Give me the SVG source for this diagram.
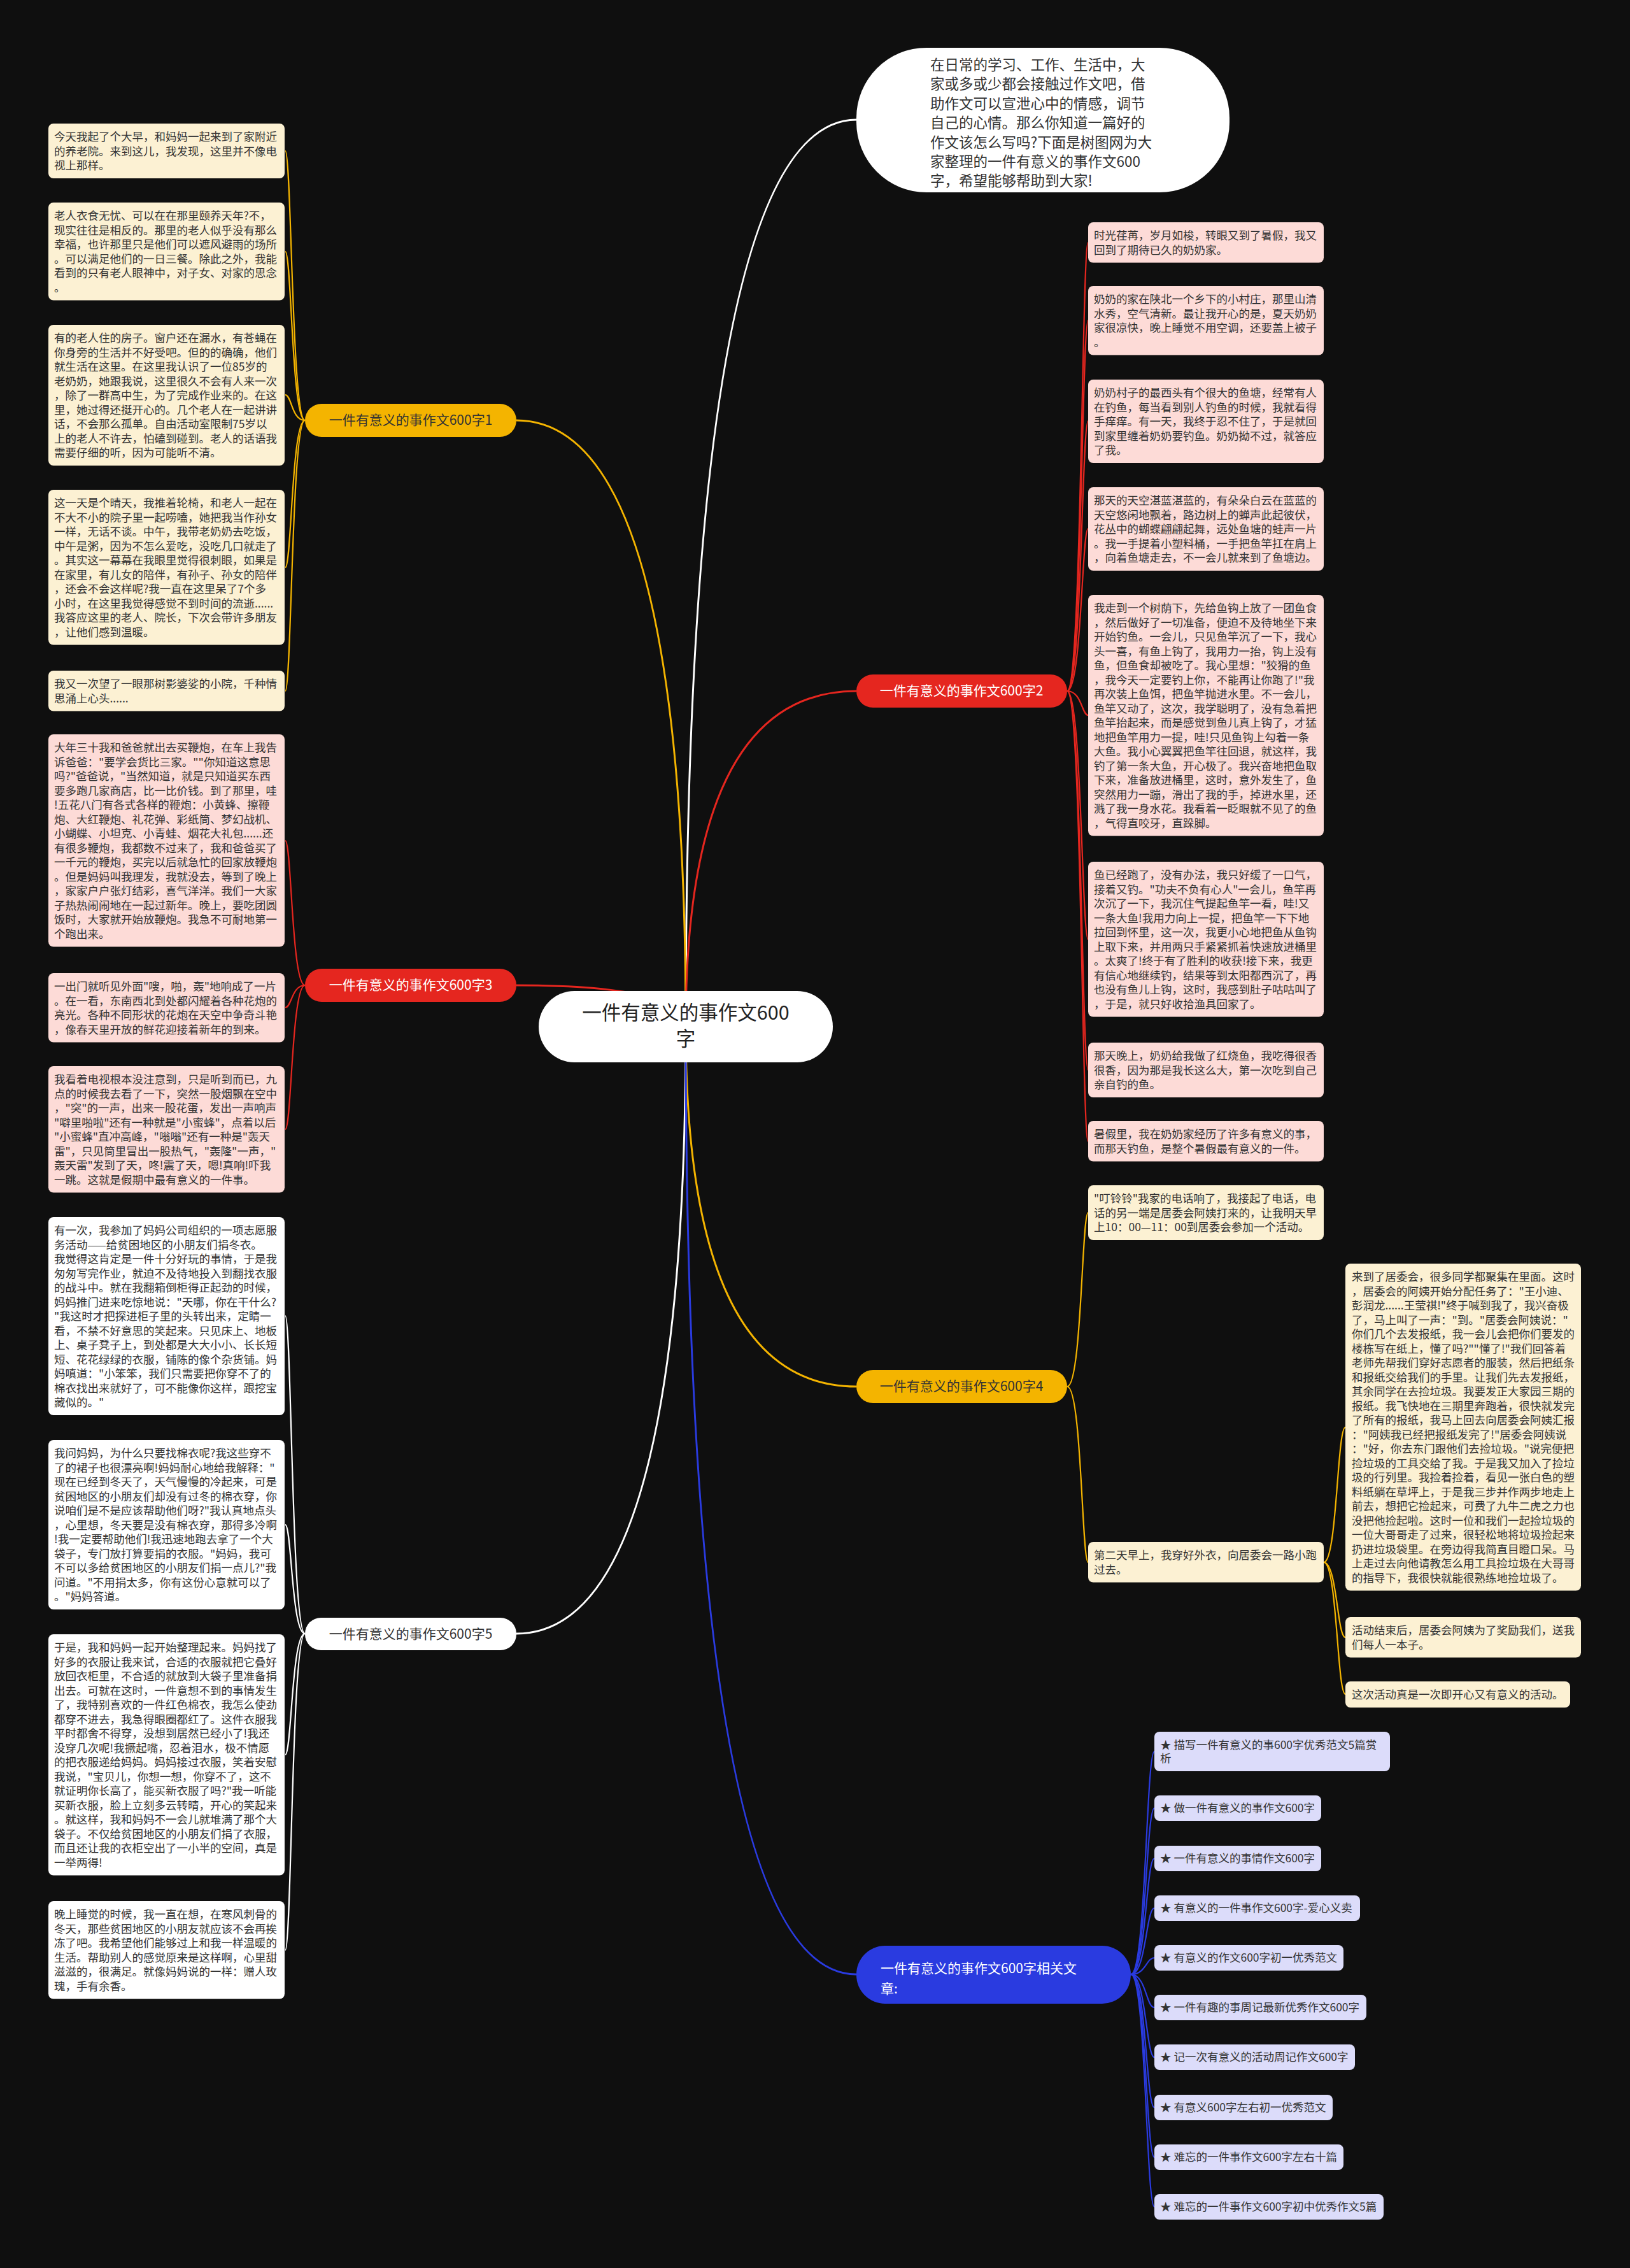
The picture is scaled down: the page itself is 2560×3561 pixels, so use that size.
<svg xmlns="http://www.w3.org/2000/svg" width="2560" height="3561" viewBox="0 0 2560 3561">
<style>
.t{font-family:"Noto Sans CJK SC","Noto Sans",sans-serif;font-size:17.5px;fill:#333}
.by{fill:#fcf1d3}
.bp{fill:#fddbd7}
.bw{fill:#ffffff}
.bl{fill:#dcdcfa}
.bt{font-family:"Noto Sans CJK SC","Noto Sans",sans-serif;font-size:21px}
.c{fill:none;stroke-width:2.2}
.m{fill:none;stroke-width:3}
</style>
<rect width="2560" height="3561" fill="#0f0f0f"/>
<g id="connectors">
<path class="m" stroke="#ffffff" d="M1077,1612 Q1077,188 1345,188"/>
<path class="m" stroke="#f4b400" d="M1077,1612 Q1077,660 811,660"/>
<path class="m" stroke="#e5261f" d="M1077,1612 Q1077,1547 811,1547"/>
<path class="m" stroke="#e5261f" d="M1077,1612 Q1077,1085 1345,1085"/>
<path class="m" stroke="#f4b400" d="M1077,1612 Q1077,2177 1345,2177"/>
<path class="m" stroke="#ffffff" d="M1077,1612 Q1077,2565 811,2565"/>
<path class="m" stroke="#2a3be0" d="M1077,1612 Q1077,3100 1345,3100"/>
<g stroke="#f4b400">
<path class="c" d="M479,660 C458,660 458,237 448,237"/>
<path class="c" d="M479,660 C458,660 458,395 448,395"/>
<path class="c" d="M479,660 C458,660 458,620 448,620"/>
<path class="c" d="M479,660 C458,660 458,891 448,891"/>
<path class="c" d="M479,660 C458,660 458,1085 448,1085"/>
</g>
<g stroke="#e5261f">
<path class="c" d="M479,1547 C458,1547 458,1320 448,1320"/>
<path class="c" d="M479,1547 C458,1547 458,1582 448,1582"/>
<path class="c" d="M479,1547 C458,1547 458,1773 448,1773"/>
</g>
<g stroke="#ffffff">
<path class="c" d="M479,2565 C458,2565 458,2066 448,2066"/>
<path class="c" d="M479,2565 C458,2565 458,2394 448,2394"/>
<path class="c" d="M479,2565 C458,2565 458,2755 448,2755"/>
<path class="c" d="M479,2565 C458,2565 458,3062 448,3062"/>
</g>
<g stroke="#e5261f">
<path class="c" d="M1676,1085 C1699,1085 1699,381 1709,381"/>
<path class="c" d="M1676,1085 C1699,1085 1699,503 1709,503"/>
<path class="c" d="M1676,1085 C1699,1085 1699,661 1709,661"/>
<path class="c" d="M1676,1085 C1699,1085 1699,830 1709,830"/>
<path class="c" d="M1676,1085 C1699,1085 1699,1123 1709,1123"/>
<path class="c" d="M1676,1085 C1699,1085 1699,1475 1709,1475"/>
<path class="c" d="M1676,1085 C1699,1085 1699,1680 1709,1680"/>
<path class="c" d="M1676,1085 C1699,1085 1699,1792 1709,1792"/>
</g>
<g stroke="#f4b400">
<path class="c" d="M1676,2177 C1699,2177 1699,1904 1709,1904"/>
<path class="c" d="M1676,2177 C1699,2177 1699,2453 1709,2453"/>
<path class="c" d="M2079,2453 C2100,2453 2100,2241 2113,2241"/>
<path class="c" d="M2079,2453 C2100,2453 2100,2571 2113,2571"/>
<path class="c" d="M2079,2453 C2100,2453 2100,2660 2113,2660"/>
</g>
<g stroke="#2a3be0">
<path class="c" d="M1776,3100 C1800,3100 1800,2750 1813,2750"/>
<path class="c" d="M1776,3100 C1800,3100 1800,2839 1813,2839"/>
<path class="c" d="M1776,3100 C1800,3100 1800,2918 1813,2918"/>
<path class="c" d="M1776,3100 C1800,3100 1800,2996 1813,2996"/>
<path class="c" d="M1776,3100 C1800,3100 1800,3074 1813,3074"/>
<path class="c" d="M1776,3100 C1800,3100 1800,3152 1813,3152"/>
<path class="c" d="M1776,3100 C1800,3100 1800,3230 1813,3230"/>
<path class="c" d="M1776,3100 C1800,3100 1800,3309 1813,3309"/>
<path class="c" d="M1776,3100 C1800,3100 1800,3387 1813,3387"/>
<path class="c" d="M1776,3100 C1800,3100 1800,3465 1813,3465"/>
</g>
</g>

<g id="center">
<rect x="846" y="1556" width="462" height="112" rx="56" fill="#ffffff"/>
<text x="1077" y="1601" text-anchor="middle" font-family="Noto Sans CJK SC, Noto Sans, sans-serif" font-size="30.5" fill="#222">一件有意义的事作文600</text>
<text x="1077" y="1642" text-anchor="middle" font-family="Noto Sans CJK SC, Noto Sans, sans-serif" font-size="30.5" fill="#222">字</text>
</g>

<g id="intro">
<rect x="1345" y="75" width="586" height="227" rx="110" fill="#ffffff"/>
<text font-family="Noto Sans CJK SC, Noto Sans, sans-serif" font-size="22.5" fill="#333">
<tspan x="1461" y="110">在日常的学习、工作、生活中，大</tspan>
<tspan x="1461" y="140.4">家或多或少都会接触过作文吧，借</tspan>
<tspan x="1461" y="170.8">助作文可以宣泄心中的情感，调节</tspan>
<tspan x="1461" y="201.2">自己的心情。那么你知道一篇好的</tspan>
<tspan x="1461" y="231.6">作文该怎么写吗?下面是树图网为大</tspan>
<tspan x="1461" y="262">家整理的一件有意义的事作文600</tspan>
<tspan x="1461" y="292.4">字，希望能够帮助到大家!</tspan>
</text>
</g>

<g id="b1"><rect x="479" y="634" width="332" height="52" rx="26" fill="#f4b400"/><text class="bt" x="645" y="667" text-anchor="middle" fill="#333">一件有意义的事作文600字1</text></g>
<g id="b3"><rect x="479" y="1521" width="332" height="52" rx="26" fill="#e5261f"/><text class="bt" x="645" y="1554" text-anchor="middle" fill="#fff">一件有意义的事作文600字3</text></g>
<g id="b5"><rect x="479" y="2540" width="332" height="51" rx="25" fill="#ffffff"/><text class="bt" x="645" y="2573" text-anchor="middle" fill="#333">一件有意义的事作文600字5</text></g>
<g id="b2"><rect x="1345" y="1059" width="331" height="52" rx="26" fill="#e5261f"/><text class="bt" x="1510" y="1092" text-anchor="middle" fill="#fff">一件有意义的事作文600字2</text></g>
<g id="b4"><rect x="1345" y="2151" width="331" height="52" rx="26" fill="#f4b400"/><text class="bt" x="1510" y="2184" text-anchor="middle" fill="#333">一件有意义的事作文600字4</text></g>
<g id="b6"><rect x="1345" y="3055" width="431" height="91" rx="45" fill="#2a3be0"/><text class="bt" fill="#fff"><tspan x="1383" y="3098">一件有意义的事作文600字相关文</tspan><tspan x="1383" y="3130">章:</tspan></text></g>

<g id="l1"><rect class="by" x="76" y="194" width="371" height="86" rx="8"/><text class="t"><tspan x="85" y="221">今天我起了个大早，和妈妈一起来到了家附近</tspan><tspan x="85" dy="22.5">的养老院。来到这儿，我发现，这里并不像电</tspan><tspan x="85" dy="22.5">视上那样。</tspan></text></g>
<g id="l2"><rect class="by" x="76" y="318" width="371" height="153.5" rx="8"/><text class="t"><tspan x="85" y="345">老人衣食无忧、可以在在那里颐养天年?不，</tspan><tspan x="85" dy="22.5">现实往往是相反的。那里的老人似乎没有那么</tspan><tspan x="85" dy="22.5">幸福，也许那里只是他们可以遮风避雨的场所</tspan><tspan x="85" dy="22.5">。可以满足他们的一日三餐。除此之外，我能</tspan><tspan x="85" dy="22.5">看到的只有老人眼神中，对子女、对家的思念</tspan><tspan x="85" dy="22.5">。</tspan></text></g>
<g id="l3"><rect class="by" x="76" y="510" width="371" height="221" rx="8"/><text class="t"><tspan x="85" y="537">有的老人住的房子。窗户还在漏水，有苍蝇在</tspan><tspan x="85" dy="22.5">你身旁的生活并不好受吧。但的的确确，他们</tspan><tspan x="85" dy="22.5">就生活在这里。在这里我认识了一位85岁的</tspan><tspan x="85" dy="22.5">老奶奶，她跟我说，这里很久不会有人来一次</tspan><tspan x="85" dy="22.5">，除了一群高中生，为了完成作业来的。在这</tspan><tspan x="85" dy="22.5">里，她过得还挺开心的。几个老人在一起讲讲</tspan><tspan x="85" dy="22.5">话，不会那么孤单。自由活动室限制75岁以</tspan><tspan x="85" dy="22.5">上的老人不许去，怕磕到碰到。老人的话语我</tspan><tspan x="85" dy="22.5">需要仔细的听，因为可能听不清。</tspan></text></g>
<g id="l4"><rect class="by" x="76" y="769" width="371" height="243.5" rx="8"/><text class="t"><tspan x="85" y="796">这一天是个晴天，我推着轮椅，和老人一起在</tspan><tspan x="85" dy="22.5">不大不小的院子里一起唠嗑，她把我当作孙女</tspan><tspan x="85" dy="22.5">一样，无话不谈。中午，我带老奶奶去吃饭，</tspan><tspan x="85" dy="22.5">中午是粥，因为不怎么爱吃，没吃几口就走了</tspan><tspan x="85" dy="22.5">。其实这一幕幕在我眼里觉得很刺眼，如果是</tspan><tspan x="85" dy="22.5">在家里，有儿女的陪伴，有孙子、孙女的陪伴</tspan><tspan x="85" dy="22.5">，还会不会这样呢?我一直在这里呆了7个多</tspan><tspan x="85" dy="22.5">小时，在这里我觉得感觉不到时间的流逝......</tspan><tspan x="85" dy="22.5">我答应这里的老人、院长，下次会带许多朋友</tspan><tspan x="85" dy="22.5">，让他们感到温暖。</tspan></text></g>
<g id="l5"><rect class="by" x="76" y="1053" width="371" height="63.5" rx="8"/><text class="t"><tspan x="85" y="1080">我又一次望了一眼那树影婆娑的小院，千种情</tspan><tspan x="85" dy="22.5">思涌上心头......</tspan></text></g>
<g id="l6"><rect class="bp" x="76" y="1153" width="371" height="333.5" rx="8"/><text class="t"><tspan x="85" y="1180">大年三十我和爸爸就出去买鞭炮，在车上我告</tspan><tspan x="85" dy="22.5">诉爸爸："要学会货比三家。""你知道这意思</tspan><tspan x="85" dy="22.5">吗?"爸爸说，"当然知道，就是只知道买东西</tspan><tspan x="85" dy="22.5">要多跑几家商店，比一比价钱。到了那里，哇</tspan><tspan x="85" dy="22.5">!五花八门有各式各样的鞭炮：小黄蜂、擦鞭</tspan><tspan x="85" dy="22.5">炮、大红鞭炮、礼花弹、彩纸筒、梦幻战机、</tspan><tspan x="85" dy="22.5">小蝴蝶、小坦克、小青蛙、烟花大礼包......还</tspan><tspan x="85" dy="22.5">有很多鞭炮，我都数不过来了，我和爸爸买了</tspan><tspan x="85" dy="22.5">一千元的鞭炮，买完以后就急忙的回家放鞭炮</tspan><tspan x="85" dy="22.5">。但是妈妈叫我理发，我就没去，等到了晚上</tspan><tspan x="85" dy="22.5">，家家户户张灯结彩，喜气洋洋。我们一大家</tspan><tspan x="85" dy="22.5">子热热闹闹地在一起过新年。晚上，要吃团圆</tspan><tspan x="85" dy="22.5">饭时，大家就开始放鞭炮。我急不可耐地第一</tspan><tspan x="85" dy="22.5">个跑出来。</tspan></text></g>
<g id="l7"><rect class="bp" x="76" y="1528" width="371" height="108.5" rx="8"/><text class="t"><tspan x="85" y="1555">一出门就听见外面"嗖，啪，轰"地响成了一片</tspan><tspan x="85" dy="22.5">。在一看，东南西北到处都闪耀着各种花炮的</tspan><tspan x="85" dy="22.5">亮光。各种不同形状的花炮在天空中争奇斗艳</tspan><tspan x="85" dy="22.5">，像春天里开放的鲜花迎接着新年的到来。</tspan></text></g>
<g id="l8"><rect class="bp" x="76" y="1674" width="371" height="198.5" rx="8"/><text class="t"><tspan x="85" y="1701">我看着电视根本没注意到，只是听到而已，九</tspan><tspan x="85" dy="22.5">点的时候我去看了一下，突然一股烟飘在空中</tspan><tspan x="85" dy="22.5">，"突"的一声，出来一股花蛋，发出一声响声</tspan><tspan x="85" dy="22.5">"噼里啪啦"还有一种就是"小蜜蜂"，点着以后</tspan><tspan x="85" dy="22.5">"小蜜蜂"直冲高峰，"嗡嗡"还有一种是"轰天</tspan><tspan x="85" dy="22.5">雷"，只见筒里冒出一股热气，"轰隆"一声，"</tspan><tspan x="85" dy="22.5">轰天雷"发到了天，咚!震了天，嗯!真响!吓我</tspan><tspan x="85" dy="22.5">一跳。这就是假期中最有意义的一件事。</tspan></text></g>
<g id="l9"><rect class="bw" x="76" y="1911" width="371" height="311" rx="8"/><text class="t"><tspan x="85" y="1938">有一次，我参加了妈妈公司组织的一项志愿服</tspan><tspan x="85" dy="22.5">务活动——给贫困地区的小朋友们捐冬衣。</tspan><tspan x="85" dy="22.5">我觉得这肯定是一件十分好玩的事情，于是我</tspan><tspan x="85" dy="22.5">匆匆写完作业，就迫不及待地投入到翻找衣服</tspan><tspan x="85" dy="22.5">的战斗中。就在我翻箱倒柜得正起劲的时候，</tspan><tspan x="85" dy="22.5">妈妈推门进来吃惊地说："天哪，你在干什么?</tspan><tspan x="85" dy="22.5">"我这时才把探进柜子里的头转出来，定睛一</tspan><tspan x="85" dy="22.5">看，不禁不好意思的笑起来。只见床上、地板</tspan><tspan x="85" dy="22.5">上、桌子凳子上，到处都是大大小小、长长短</tspan><tspan x="85" dy="22.5">短、花花绿绿的衣服，铺陈的像个杂货铺。妈</tspan><tspan x="85" dy="22.5">妈嗔道："小笨笨，我们只需要把你穿不了的</tspan><tspan x="85" dy="22.5">棉衣找出来就好了，可不能像你这样，跟挖宝</tspan><tspan x="85" dy="22.5">藏似的。"</tspan></text></g>
<g id="l10"><rect class="bw" x="76" y="2261" width="371" height="266" rx="8"/><text class="t"><tspan x="85" y="2288">我问妈妈，为什么只要找棉衣呢?我这些穿不</tspan><tspan x="85" dy="22.5">了的裙子也很漂亮啊!妈妈耐心地给我解释："</tspan><tspan x="85" dy="22.5">现在已经到冬天了，天气慢慢的冷起来，可是</tspan><tspan x="85" dy="22.5">贫困地区的小朋友们却没有过冬的棉衣穿，你</tspan><tspan x="85" dy="22.5">说咱们是不是应该帮助他们呀?"我认真地点头</tspan><tspan x="85" dy="22.5">，心里想，冬天要是没有棉衣穿，那得多冷啊</tspan><tspan x="85" dy="22.5">!我一定要帮助他们!我迅速地跑去拿了一个大</tspan><tspan x="85" dy="22.5">袋子，专门放打算要捐的衣服。"妈妈，我可</tspan><tspan x="85" dy="22.5">不可以多给贫困地区的小朋友们捐一点儿?"我</tspan><tspan x="85" dy="22.5">问道。"不用捐太多，你有这份心意就可以了</tspan><tspan x="85" dy="22.5">。"妈妈答道。</tspan></text></g>
<g id="l11"><rect class="bw" x="76" y="2566" width="371" height="378.5" rx="8"/><text class="t"><tspan x="85" y="2593">于是，我和妈妈一起开始整理起来。妈妈找了</tspan><tspan x="85" dy="22.5">好多的衣服让我来试，合适的衣服就把它叠好</tspan><tspan x="85" dy="22.5">放回衣柜里，不合适的就放到大袋子里准备捐</tspan><tspan x="85" dy="22.5">出去。可就在这时，一件意想不到的事情发生</tspan><tspan x="85" dy="22.5">了，我特别喜欢的一件红色棉衣，我怎么使劲</tspan><tspan x="85" dy="22.5">都穿不进去，我急得眼圈都红了。这件衣服我</tspan><tspan x="85" dy="22.5">平时都舍不得穿，没想到居然已经小了!我还</tspan><tspan x="85" dy="22.5">没穿几次呢!我撅起嘴，忍着泪水，极不情愿</tspan><tspan x="85" dy="22.5">的把衣服递给妈妈。妈妈接过衣服，笑着安慰</tspan><tspan x="85" dy="22.5">我说，"宝贝儿，你想一想，你穿不了，这不</tspan><tspan x="85" dy="22.5">就证明你长高了，能买新衣服了吗?"我一听能</tspan><tspan x="85" dy="22.5">买新衣服，脸上立刻多云转晴，开心的笑起来</tspan><tspan x="85" dy="22.5">。就这样，我和妈妈不一会儿就堆满了那个大</tspan><tspan x="85" dy="22.5">袋子。不仅给贫困地区的小朋友们捐了衣服，</tspan><tspan x="85" dy="22.5">而且还让我的衣柜空出了一小半的空间，真是</tspan><tspan x="85" dy="22.5">一举两得!</tspan></text></g>
<g id="l12"><rect class="bw" x="76" y="2985" width="371" height="153.5" rx="8"/><text class="t"><tspan x="85" y="3012">晚上睡觉的时候，我一直在想，在寒风刺骨的</tspan><tspan x="85" dy="22.5">冬天，那些贫困地区的小朋友就应该不会再挨</tspan><tspan x="85" dy="22.5">冻了吧。我希望他们能够过上和我一样温暖的</tspan><tspan x="85" dy="22.5">生活。帮助别人的感觉原来是这样啊，心里甜</tspan><tspan x="85" dy="22.5">滋滋的，很满足。就像妈妈说的一样：赠人玫</tspan><tspan x="85" dy="22.5">瑰，手有余香。</tspan></text></g>

<g id="r1"><rect class="bp" x="1709" y="349" width="370" height="63.5" rx="8"/><text class="t"><tspan x="1718" y="376">时光荏苒，岁月如梭，转眼又到了暑假，我又</tspan><tspan x="1718" dy="22.5">回到了期待已久的奶奶家。</tspan></text></g>
<g id="r2"><rect class="bp" x="1709" y="449" width="370" height="108.5" rx="8"/><text class="t"><tspan x="1718" y="476">奶奶的家在陕北一个乡下的小村庄，那里山清</tspan><tspan x="1718" dy="22.5">水秀，空气清新。最让我开心的是，夏天奶奶</tspan><tspan x="1718" dy="22.5">家很凉快，晚上睡觉不用空调，还要盖上被子</tspan><tspan x="1718" dy="22.5">。</tspan></text></g>
<g id="r3"><rect class="bp" x="1709" y="596" width="370" height="131" rx="8"/><text class="t"><tspan x="1718" y="623">奶奶村子的最西头有个很大的鱼塘，经常有人</tspan><tspan x="1718" dy="22.5">在钓鱼，每当看到别人钓鱼的时候，我就看得</tspan><tspan x="1718" dy="22.5">手痒痒。有一天，我终于忍不住了，于是就回</tspan><tspan x="1718" dy="22.5">到家里缠着奶奶要钓鱼。奶奶拗不过，就答应</tspan><tspan x="1718" dy="22.5">了我。</tspan></text></g>
<g id="r4"><rect class="bp" x="1709" y="765" width="370" height="131" rx="8"/><text class="t"><tspan x="1718" y="792">那天的天空湛蓝湛蓝的，有朵朵白云在蓝蓝的</tspan><tspan x="1718" dy="22.5">天空悠闲地飘着，路边树上的蝉声此起彼伏，</tspan><tspan x="1718" dy="22.5">花丛中的蝴蝶翩翩起舞，远处鱼塘的蛙声一片</tspan><tspan x="1718" dy="22.5">。我一手提着小塑料桶，一手把鱼竿扛在肩上</tspan><tspan x="1718" dy="22.5">，向着鱼塘走去，不一会儿就来到了鱼塘边。</tspan></text></g>
<g id="r5"><rect class="bp" x="1709" y="934" width="370" height="378.5" rx="8"/><text class="t"><tspan x="1718" y="961">我走到一个树荫下，先给鱼钩上放了一团鱼食</tspan><tspan x="1718" dy="22.5">，然后做好了一切准备，便迫不及待地坐下来</tspan><tspan x="1718" dy="22.5">开始钓鱼。一会儿，只见鱼竿沉了一下，我心</tspan><tspan x="1718" dy="22.5">头一喜，有鱼上钩了，我用力一抬，钩上没有</tspan><tspan x="1718" dy="22.5">鱼，但鱼食却被吃了。我心里想："狡猾的鱼</tspan><tspan x="1718" dy="22.5">，我今天一定要钓上你，不能再让你跑了!"我</tspan><tspan x="1718" dy="22.5">再次装上鱼饵，把鱼竿抛进水里。不一会儿，</tspan><tspan x="1718" dy="22.5">鱼竿又动了，这次，我学聪明了，没有急着把</tspan><tspan x="1718" dy="22.5">鱼竿抬起来，而是感觉到鱼儿真上钩了，才猛</tspan><tspan x="1718" dy="22.5">地把鱼竿用力一提，哇!只见鱼钩上勾着一条</tspan><tspan x="1718" dy="22.5">大鱼。我小心翼翼把鱼竿往回退，就这样，我</tspan><tspan x="1718" dy="22.5">钓了第一条大鱼，开心极了。我兴奋地把鱼取</tspan><tspan x="1718" dy="22.5">下来，准备放进桶里，这时，意外发生了，鱼</tspan><tspan x="1718" dy="22.5">突然用力一蹦，滑出了我的手，掉进水里，还</tspan><tspan x="1718" dy="22.5">溅了我一身水花。我看着一眨眼就不见了的鱼</tspan><tspan x="1718" dy="22.5">，气得直咬牙，直跺脚。</tspan></text></g>
<g id="r6"><rect class="bp" x="1709" y="1353" width="370" height="243.5" rx="8"/><text class="t"><tspan x="1718" y="1380">鱼已经跑了，没有办法，我只好缓了一口气，</tspan><tspan x="1718" dy="22.5">接着又钓。"功夫不负有心人"一会儿，鱼竿再</tspan><tspan x="1718" dy="22.5">次沉了一下，我沉住气提起鱼竿一看，哇!又</tspan><tspan x="1718" dy="22.5">一条大鱼!我用力向上一提，把鱼竿一下下地</tspan><tspan x="1718" dy="22.5">拉回到怀里，这一次，我更小心地把鱼从鱼钩</tspan><tspan x="1718" dy="22.5">上取下来，并用两只手紧紧抓着快速放进桶里</tspan><tspan x="1718" dy="22.5">。太爽了!终于有了胜利的收获!接下来，我更</tspan><tspan x="1718" dy="22.5">有信心地继续钓，结果等到太阳都西沉了，再</tspan><tspan x="1718" dy="22.5">也没有鱼儿上钩，这时，我感到肚子咕咕叫了</tspan><tspan x="1718" dy="22.5">，于是，就只好收拾渔具回家了。</tspan></text></g>
<g id="r7"><rect class="bp" x="1709" y="1637" width="370" height="86" rx="8"/><text class="t"><tspan x="1718" y="1664">那天晚上，奶奶给我做了红烧鱼，我吃得很香</tspan><tspan x="1718" dy="22.5">很香，因为那是我长这么大，第一次吃到自己</tspan><tspan x="1718" dy="22.5">亲自钓的鱼。</tspan></text></g>
<g id="r8"><rect class="bp" x="1709" y="1760" width="370" height="63.5" rx="8"/><text class="t"><tspan x="1718" y="1787">暑假里，我在奶奶家经历了许多有意义的事，</tspan><tspan x="1718" dy="22.5">而那天钓鱼，是整个暑假最有意义的一件。</tspan></text></g>
<g id="r9"><rect class="by" x="1709" y="1861" width="370" height="86" rx="8"/><text class="t"><tspan x="1718" y="1888">"叮铃铃"我家的电话响了，我接起了电话，电</tspan><tspan x="1718" dy="22.5">话的另一端是居委会阿姨打来的，让我明天早</tspan><tspan x="1718" dy="22.5">上10：00—11：00到居委会参加一个活动。</tspan></text></g>
<g id="r10"><rect class="by" x="1709" y="2421" width="370" height="63.5" rx="8"/><text class="t"><tspan x="1718" y="2448">第二天早上，我穿好外衣，向居委会一路小跑</tspan><tspan x="1718" dy="22.5">过去。</tspan></text></g>
<g id="r11"><rect class="by" x="2113" y="1984" width="370" height="513.5" rx="8"/><text class="t"><tspan x="2123" y="2011">来到了居委会，很多同学都聚集在里面。这时</tspan><tspan x="2123" dy="22.5">，居委会的阿姨开始分配任务了："王小迪、</tspan><tspan x="2123" dy="22.5">彭润龙......王莹祺!"终于喊到我了，我兴奋极</tspan><tspan x="2123" dy="22.5">了，马上叫了一声："到。"居委会阿姨说："</tspan><tspan x="2123" dy="22.5">你们几个去发报纸，我一会儿会把你们要发的</tspan><tspan x="2123" dy="22.5">楼栋写在纸上，懂了吗?""懂了!"我们回答着</tspan><tspan x="2123" dy="22.5">老师先帮我们穿好志愿者的服装，然后把纸条</tspan><tspan x="2123" dy="22.5">和报纸交给我们的手里。让我们先去发报纸，</tspan><tspan x="2123" dy="22.5">其余同学在去捡垃圾。我要发正大家园三期的</tspan><tspan x="2123" dy="22.5">报纸。我飞快地在三期里奔跑着，很快就发完</tspan><tspan x="2123" dy="22.5">了所有的报纸，我马上回去向居委会阿姨汇报</tspan><tspan x="2123" dy="22.5">："阿姨我已经把报纸发完了!"居委会阿姨说</tspan><tspan x="2123" dy="22.5">："好，你去东门跟他们去捡垃圾。"说完便把</tspan><tspan x="2123" dy="22.5">捡垃圾的工具交给了我。于是我又加入了捡垃</tspan><tspan x="2123" dy="22.5">圾的行列里。我捡着捡着，看见一张白色的塑</tspan><tspan x="2123" dy="22.5">料纸躺在草坪上，于是我三步并作两步地走上</tspan><tspan x="2123" dy="22.5">前去，想把它捡起来，可费了九牛二虎之力也</tspan><tspan x="2123" dy="22.5">没把他捡起啦。这时一位和我们一起捡垃圾的</tspan><tspan x="2123" dy="22.5">一位大哥哥走了过来，很轻松地将垃圾捡起来</tspan><tspan x="2123" dy="22.5">扔进垃圾袋里。在旁边得我简直目瞪口呆。马</tspan><tspan x="2123" dy="22.5">上走过去向他请教怎么用工具捡垃圾在大哥哥</tspan><tspan x="2123" dy="22.5">的指导下，我很快就能很熟练地捡垃圾了。</tspan></text></g>
<g id="r12"><rect class="by" x="2113" y="2539" width="370" height="63.5" rx="8"/><text class="t"><tspan x="2123" y="2566">活动结束后，居委会阿姨为了奖励我们，送我</tspan><tspan x="2123" dy="22.5">们每人一本子。</tspan></text></g>
<g id="r13"><rect class="by" x="2113" y="2640" width="353" height="41" rx="8"/><text class="t"><tspan x="2123" y="2667">这次活动真是一次即开心又有意义的活动。</tspan></text></g>

<g id="a1"><rect class="bl" x="1813" y="2719" width="370" height="62" rx="8"/><text class="t"><tspan x="1822" y="2746">★ 描写一件有意义的事600字优秀范文5篇赏</tspan><tspan x="1822" dy="21">析</tspan></text></g>
<g id="a2"><rect class="bl" x="1813" y="2819" width="262" height="40" rx="8"/><text class="t" x="1822" y="2845">★ 做一件有意义的事作文600字</text></g>
<g id="a3"><rect class="bl" x="1813" y="2898" width="262" height="40" rx="8"/><text class="t" x="1822" y="2924">★ 一件有意义的事情作文600字</text></g>
<g id="a4"><rect class="bl" x="1813" y="2976" width="323" height="40" rx="8"/><text class="t" x="1822" y="3002">★ 有意义的一件事作文600字-爱心义卖</text></g>
<g id="a5"><rect class="bl" x="1813" y="3054" width="297" height="40" rx="8"/><text class="t" x="1822" y="3080">★ 有意义的作文600字初一优秀范文</text></g>
<g id="a6"><rect class="bl" x="1813" y="3132" width="333" height="40" rx="8"/><text class="t" x="1822" y="3158">★ 一件有趣的事周记最新优秀作文600字</text></g>
<g id="a7"><rect class="bl" x="1813" y="3210" width="315" height="40" rx="8"/><text class="t" x="1822" y="3236">★ 记一次有意义的活动周记作文600字</text></g>
<g id="a8"><rect class="bl" x="1813" y="3289" width="280" height="40" rx="8"/><text class="t" x="1822" y="3315">★ 有意义600字左右初一优秀范文</text></g>
<g id="a9"><rect class="bl" x="1813" y="3367" width="297" height="40" rx="8"/><text class="t" x="1822" y="3393">★ 难忘的一件事作文600字左右十篇</text></g>
<g id="a10"><rect class="bl" x="1813" y="3445" width="360" height="40" rx="8"/><text class="t" x="1822" y="3471">★ 难忘的一件事作文600字初中优秀作文5篇</text></g>
</svg>
